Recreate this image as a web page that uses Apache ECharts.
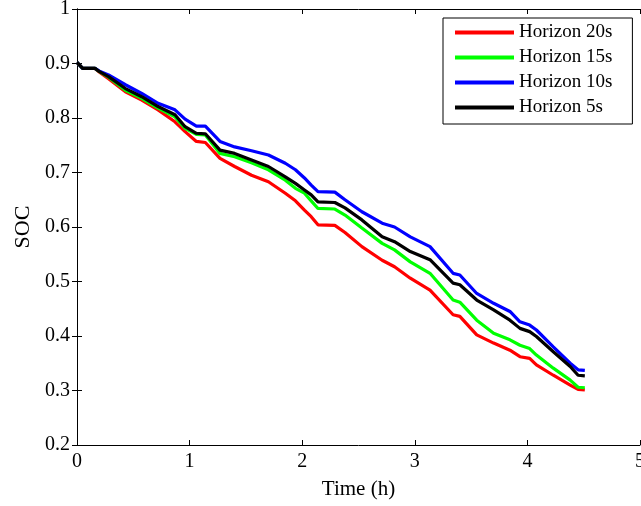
<!DOCTYPE html>
<html>
<head>
<meta charset="utf-8">
<script src="https://cdn.jsdelivr.net/npm/echarts@6/dist/echarts.min.js"></script>
<style>
html,body{margin:0;padding:0;background:#fff;}
#c{width:641px;height:506px;}
</style>
</head>
<body>
<div id="c"></div>
<script>
var timeH = [0, 0.05, 0.16, 0.2, 0.28, 0.43, 0.575, 0.72, 0.87, 0.96, 1.06, 1.14, 1.27, 1.40, 1.55, 1.70, 1.85, 1.94, 2.02, 2.08, 2.14, 2.29, 2.38, 2.53, 2.71, 2.82, 2.96, 3.135, 3.34, 3.40, 3.55, 3.70, 3.845, 3.934, 4.02, 4.08, 4.23, 4.38, 4.45, 4.51];
var socH20 = [0.902, 0.891, 0.891, 0.884, 0.872, 0.848, 0.833, 0.815, 0.793, 0.775, 0.757, 0.755, 0.726, 0.711, 0.695, 0.683, 0.662, 0.648, 0.631, 0.619, 0.604, 0.603, 0.590, 0.564, 0.539, 0.527, 0.506, 0.484, 0.439, 0.436, 0.402, 0.387, 0.374, 0.362, 0.359, 0.347, 0.328, 0.310, 0.302, 0.301];
var socH15 = [0.902, 0.891, 0.891, 0.885, 0.875, 0.851, 0.836, 0.818, 0.802, 0.781, 0.770, 0.769, 0.735, 0.729, 0.718, 0.705, 0.686, 0.671, 0.662, 0.648, 0.634, 0.633, 0.622, 0.598, 0.570, 0.558, 0.536, 0.515, 0.466, 0.462, 0.429, 0.405, 0.393, 0.383, 0.377, 0.365, 0.341, 0.319, 0.306, 0.305];
var socH10 = [0.902, 0.891, 0.891, 0.886, 0.879, 0.861, 0.845, 0.827, 0.815, 0.798, 0.785, 0.785, 0.757, 0.747, 0.740, 0.732, 0.717, 0.705, 0.690, 0.677, 0.665, 0.664, 0.650, 0.628, 0.607, 0.600, 0.582, 0.564, 0.515, 0.512, 0.478, 0.460, 0.445, 0.426, 0.420, 0.411, 0.380, 0.350, 0.338, 0.337];
var socH5  = [0.902, 0.891, 0.891, 0.885, 0.876, 0.854, 0.839, 0.821, 0.806, 0.784, 0.772, 0.771, 0.741, 0.735, 0.723, 0.711, 0.692, 0.680, 0.668, 0.659, 0.646, 0.645, 0.635, 0.613, 0.582, 0.573, 0.555, 0.540, 0.497, 0.494, 0.466, 0.448, 0.429, 0.414, 0.408, 0.399, 0.371, 0.344, 0.328, 0.327];
var seriesNames = ['Horizon 20s', 'Horizon 15s', 'Horizon 10s', 'Horizon 5s'];
var seriesColors = ['#ff0000', '#00ff00', '#0000ff', '#000000'];
var seriesValues = [socH20, socH15, socH10, socH5];

var font = '"Liberation Serif", "Times New Roman", serif';
function pairs(vals){ return timeH.map(function(t,i){ return [t, vals[i]]; }); }

var chart = echarts.init(document.getElementById('c'), null, {renderer:'canvas'});
var axisCommon = {
  axisLine:{show:true, lineStyle:{color:'#000', width:1}},
  axisTick:{show:true, inside:true, length:5, lineStyle:{color:'#000', width:1}},
  splitLine:{show:false}
};
chart.setOption({
  animation:false,
  backgroundColor:'#fff',
  grid:{left:77, right:1, top:9, bottom:61, containLabel:false, outerBoundsMode:'none'},
  legend:{
    orient:'vertical', left:443, top:18,
    padding:[5, 20, 7, 12],
    icon:'rect',
    itemWidth:59, itemHeight:4, itemGap:6,
    borderColor:'#000', borderWidth:1, backgroundColor:'#fff', borderRadius:0,
    textStyle:{fontFamily:font, fontSize:19, color:'#000', lineHeight:19},
    data:seriesNames
  },
  xAxis:[
    Object.assign({type:'value', min:0, max:5, interval:1, position:'bottom',
      name:'Time (h)', nameLocation:'middle', nameGap:34,
      nameTextStyle:{fontFamily:font, fontSize:21, color:'#000'},
      axisLabel:{fontFamily:font, fontSize:20, color:'#000', margin:7}}, axisCommon),
    Object.assign({type:'value', min:0, max:5, interval:1, position:'top',
      axisLabel:{show:false}}, axisCommon)
  ],
  yAxis:[
    Object.assign({type:'value', min:0.2, max:1, interval:0.1, position:'left',
      name:'SOC', nameLocation:'middle', nameGap:40,
      nameTextStyle:{fontFamily:font, fontSize:22, color:'#000'},
      axisLabel:{fontFamily:font, fontSize:20, color:'#000', margin:7,
        formatter:function(v){ return String(Math.round(v*10)/10); }}}, axisCommon),
    Object.assign({type:'value', min:0.2, max:1, interval:0.1, position:'right',
      axisLabel:{show:false}}, axisCommon)
  ],
  series: seriesNames.map(function(n,i){
    return {name:n, type:'line', xAxisIndex:0, yAxisIndex:0,
      data:pairs(seriesValues[i]), showSymbol:false, symbol:'none',
      lineStyle:{color:seriesColors[i], width:3.2}, itemStyle:{color:seriesColors[i]},
      z:2+i};
  })
});
</script>
</body>
</html>
